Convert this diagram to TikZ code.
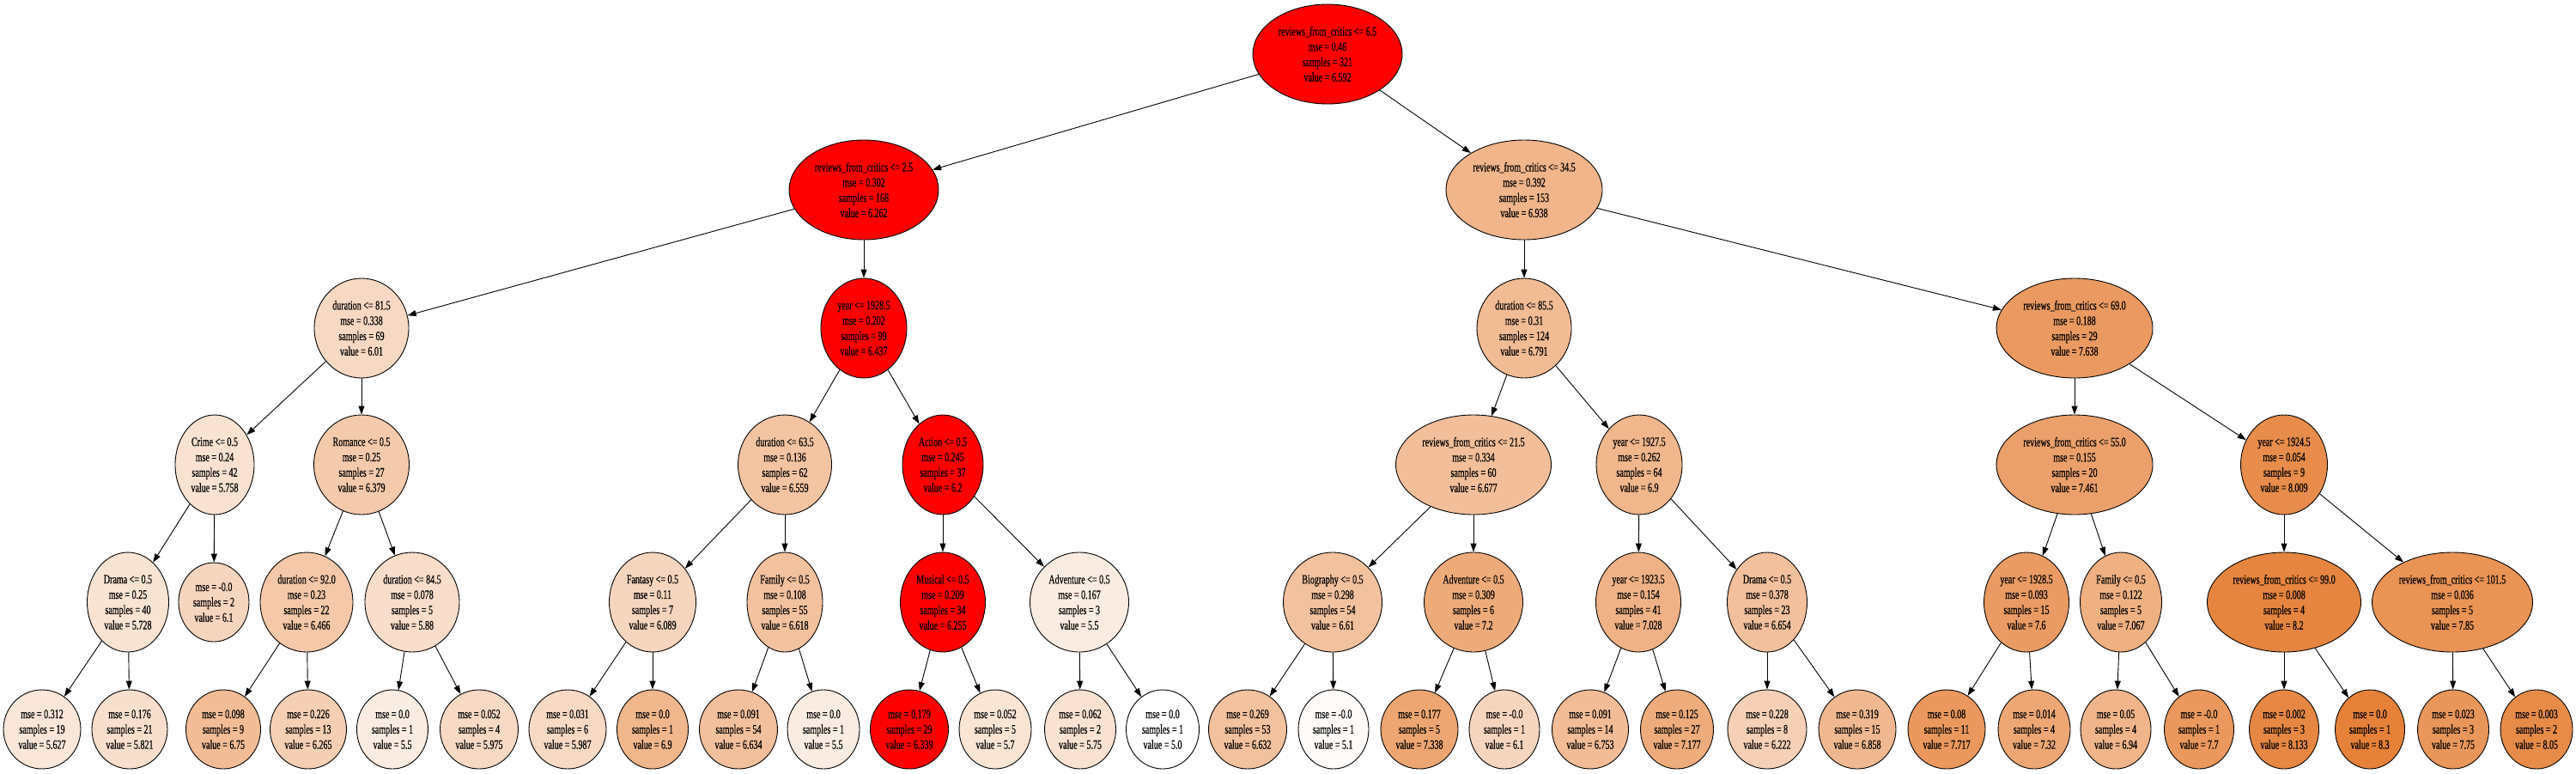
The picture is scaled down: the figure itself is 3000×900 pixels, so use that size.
\documentclass[tikz,border=0pt]{standalone}
\usepackage{fontspec}
\setmainfont{Liberation Serif}[FakeStretch=0.67,FakeBold=0.4]
\usetikzlibrary{arrows.meta,shapes.geometric}
\definecolor{treeor}{RGB}{229,129,57}
\tikzset{
  tn/.style={ellipse, draw=black, line width=0.9pt, inner sep=0pt, align=center,
    font=\fontsize{15}{17.8}\selectfont, minimum height=116pt},
  lf/.style={tn, minimum height=92pt, minimum width=86pt},
  ed/.style={line width=0.9pt, -{Triangle[length=10pt,width=7pt]}},
  fo/.style={fill=treeor!#1!white},
  rd/.style={fill=red}}
\begin{document}
\begin{tikzpicture}[x=1pt,y=-1pt]
\useasboundingbox (0,0) rectangle (3000,900);
% level 0
\node[tn,rd,minimum width=174pt] (r) at (1546,63) {reviews\_from\_critics <= 6.5\\mse = 0.46\\samples = 321\\value = 6.592};
% level 1
\node[tn,rd,minimum width=174pt] (a) at (1006,221) {reviews\_from\_critics <= 2.5\\mse = 0.302\\samples = 168\\value = 6.262};
\node[tn,fo=59,minimum width=182pt] (b) at (1775,221) {reviews\_from\_critics <= 34.5\\mse = 0.392\\samples = 153\\value = 6.938};
% level 2
\node[tn,fo=31,minimum width=110pt] (aa) at (421,382) {duration <= 81.5\\mse = 0.338\\samples = 69\\value = 6.01};
\node[tn,rd,minimum width=100pt] (ab) at (1006,382) {year <= 1928.5\\mse = 0.202\\samples = 99\\value = 6.437};
\node[tn,fo=54,minimum width=110pt] (ba) at (1775,382) {duration <= 85.5\\mse = 0.31\\samples = 124\\value = 6.791};
\node[tn,fo=80,minimum width=182pt] (bb) at (2416,382) {reviews\_from\_critics <= 69.0\\mse = 0.188\\samples = 29\\value = 7.638};
% level 3
\node[tn,fo=23,minimum width=92pt] (aaa) at (250,541) {Crime <= 0.5\\mse = 0.24\\samples = 42\\value = 5.758};
\node[tn,fo=42,minimum width=111pt] (aab) at (421,541) {Romance <= 0.5\\mse = 0.25\\samples = 27\\value = 6.379};
\node[tn,fo=47,minimum width=109pt] (aba) at (914,541) {duration <= 63.5\\mse = 0.136\\samples = 62\\value = 6.559};
\node[tn,rd,minimum width=94pt] (abb) at (1098,541) {Action <= 0.5\\mse = 0.245\\samples = 37\\value = 6.2};
\node[tn,fo=51,minimum width=181pt] (baa) at (1716,541) {reviews\_from\_critics <= 21.5\\mse = 0.334\\samples = 60\\value = 6.677};
\node[tn,fo=58,minimum width=100pt] (bab) at (1909,541) {year <= 1927.5\\mse = 0.262\\samples = 64\\value = 6.9};
\node[tn,fo=75,minimum width=182pt] (bba) at (2416,541) {reviews\_from\_critics <= 55.0\\mse = 0.155\\samples = 20\\value = 7.461};
\node[tn,fo=91,minimum width=101pt] (bbb) at (2660,541) {year <= 1924.5\\mse = 0.054\\samples = 9\\value = 8.009};
% level 4
\node[tn,fo=22,minimum width=95pt] (c1) at (149,701) {Drama <= 0.5\\mse = 0.25\\samples = 40\\value = 5.728};
\node[lf,fo=33,minimum width=82pt] (c2) at (249,701) {mse = -0.0\\samples = 2\\value = 6.1};
\node[tn,fo=44,minimum width=108pt] (c3) at (357,701) {duration <= 92.0\\mse = 0.23\\samples = 22\\value = 6.466};
\node[tn,fo=27,minimum width=110pt] (c4) at (480,701) {duration <= 84.5\\mse = 0.078\\samples = 5\\value = 5.88};
\node[tn,fo=33,minimum width=101pt] (c5) at (760,701) {Fantasy <= 0.5\\mse = 0.11\\samples = 7\\value = 6.089};
\node[tn,fo=49,minimum width=88pt] (c6) at (914,701) {Family <= 0.5\\mse = 0.108\\samples = 55\\value = 6.618};
\node[tn,rd,minimum width=99pt] (c7) at (1098,701) {Musical <= 0.5\\mse = 0.209\\samples = 34\\value = 6.255};
\node[tn,fo=15,minimum width=115pt] (c8) at (1257,701) {Adventure <= 0.5\\mse = 0.167\\samples = 3\\value = 5.5};
\node[tn,fo=49,minimum width=115pt] (c9) at (1552,701) {Biography <= 0.5\\mse = 0.298\\samples = 54\\value = 6.61};
\node[tn,fo=67,minimum width=115pt] (c10) at (1716,701) {Adventure <= 0.5\\mse = 0.309\\samples = 6\\value = 7.2};
\node[tn,fo=61,minimum width=99pt] (c11) at (1908,701) {year <= 1923.5\\mse = 0.154\\samples = 41\\value = 7.028};
\node[tn,fo=50,minimum width=93pt] (c12) at (2058,701) {Drama <= 0.5\\mse = 0.378\\samples = 23\\value = 6.654};
\node[tn,fo=79,minimum width=99pt] (c13) at (2360,701) {year <= 1928.5\\mse = 0.093\\samples = 15\\value = 7.6};
\node[tn,fo=63,minimum width=95pt] (c14) at (2470,701) {Family <= 0.5\\mse = 0.122\\samples = 5\\value = 7.067};
\node[tn,fo=97,minimum width=179pt] (c15) at (2660,701) {reviews\_from\_critics <= 99.0\\mse = 0.008\\samples = 4\\value = 8.2};
\node[tn,fo=86,minimum width=187pt] (c16) at (2856,701) {reviews\_from\_critics <= 101.5\\mse = 0.036\\samples = 5\\value = 7.85};
% leaves
\node[lf,fo=19,minimum width=90pt] (l1) at (49,849) {mse = 0.312\\samples = 19\\value = 5.627};
\node[lf,fo=25,minimum width=88pt] (l2) at (151,849) {mse = 0.176\\samples = 21\\value = 5.821};
\node[lf,fo=53,minimum width=87pt] (l3) at (260,849) {mse = 0.098\\samples = 9\\value = 6.75};
\node[lf,fo=38,minimum width=89pt] (l4) at (359,849) {mse = 0.226\\samples = 13\\value = 6.265};
\node[lf,fo=15,minimum width=83pt] (l5) at (457,849) {mse = 0.0\\samples = 1\\value = 5.5};
\node[lf,fo=30,minimum width=91pt] (l6) at (558,849) {mse = 0.052\\samples = 4\\value = 5.975};
\node[lf,fo=30,minimum width=90pt] (l7) at (661,849) {mse = 0.031\\samples = 6\\value = 5.987};
\node[lf,fo=58,minimum width=83pt] (l8) at (760,849) {mse = 0.0\\samples = 1\\value = 6.9};
\node[lf,fo=50,minimum width=91pt] (l9) at (860,849) {mse = 0.091\\samples = 54\\value = 6.634};
\node[lf,fo=15,minimum width=84pt] (l10) at (959,849) {mse = 0.0\\samples = 1\\value = 5.5};
\node[lf,rd,minimum width=91pt] (l11) at (1059,849) {mse = 0.179\\samples = 29\\value = 6.339};
\node[lf,fo=21,minimum width=84pt] (l12) at (1159,849) {mse = 0.052\\samples = 5\\value = 5.7};
\node[lf,fo=23,minimum width=83pt] (l13) at (1258,849) {mse = 0.062\\samples = 2\\value = 5.75};
\node[lf,fo=0,minimum width=85pt] (l14) at (1354,849) {mse = 0.0\\samples = 1\\value = 5.0};
\node[lf,fo=49,minimum width=91pt] (l15) at (1453,849) {mse = 0.269\\samples = 53\\value = 6.632};
\node[lf,fo=3,minimum width=82pt] (l16) at (1553,849) {mse = -0.0\\samples = 1\\value = 5.1};
\node[lf,fo=71,minimum width=90pt] (l17) at (1653,849) {mse = 0.177\\samples = 5\\value = 7.338};
\node[lf,fo=33,minimum width=82pt] (l18) at (1752,849) {mse = -0.0\\samples = 1\\value = 6.1};
\node[lf,fo=53,minimum width=89pt] (l19) at (1852,849) {mse = 0.091\\samples = 14\\value = 6.753};
\node[lf,fo=66,minimum width=85pt] (l20) at (1953,849) {mse = 0.125\\samples = 27\\value = 7.177};
\node[lf,fo=37,minimum width=92pt] (l21) at (2058,849) {mse = 0.228\\samples = 8\\value = 6.222};
\node[lf,fo=56,minimum width=90pt] (l22) at (2163,849) {mse = 0.319\\samples = 15\\value = 6.858};
\node[lf,fo=82,minimum width=90pt] (l23) at (2267,849) {mse = 0.08\\samples = 11\\value = 7.717};
\node[lf,fo=70,minimum width=84pt] (l24) at (2369,849) {mse = 0.014\\samples = 4\\value = 7.32};
\node[lf,fo=59,minimum width=82pt] (l25) at (2464,849) {mse = 0.05\\samples = 4\\value = 6.94};
\node[lf,fo=82,minimum width=81pt] (l26) at (2561,849) {mse = -0.0\\samples = 1\\value = 7.7};
\node[lf,fo=95,minimum width=81pt] (l27) at (2660,849) {mse = 0.002\\samples = 3\\value = 8.133};
\node[lf,fo=100,minimum width=81pt] (l28) at (2760,849) {mse = 0.0\\samples = 1\\value = 8.3};
\node[lf,fo=83,minimum width=83pt] (l29) at (2857,849) {mse = 0.023\\samples = 3\\value = 7.75};
\node[lf,fo=92,minimum width=84pt] (l30) at (2954,849) {mse = 0.003\\samples = 2\\value = 8.05};
% edges
\draw[ed] (r) -- (a);  \draw[ed] (r) -- (b);
\draw[ed] (a) -- (aa); \draw[ed] (a) -- (ab);
\draw[ed] (b) -- (ba); \draw[ed] (b) -- (bb);
\draw[ed] (aa) -- (aaa); \draw[ed] (aa) -- (aab);
\draw[ed] (ab) -- (aba); \draw[ed] (ab) -- (abb);
\draw[ed] (ba) -- (baa); \draw[ed] (ba) -- (bab);
\draw[ed] (bb) -- (bba); \draw[ed] (bb) -- (bbb);
\draw[ed] (aaa) -- (c1); \draw[ed] (aaa) -- (c2);
\draw[ed] (aab) -- (c3); \draw[ed] (aab) -- (c4);
\draw[ed] (aba) -- (c5); \draw[ed] (aba) -- (c6);
\draw[ed] (abb) -- (c7); \draw[ed] (abb) -- (c8);
\draw[ed] (baa) -- (c9); \draw[ed] (baa) -- (c10);
\draw[ed] (bab) -- (c11); \draw[ed] (bab) -- (c12);
\draw[ed] (bba) -- (c13); \draw[ed] (bba) -- (c14);
\draw[ed] (bbb) -- (c15); \draw[ed] (bbb) -- (c16);
\draw[ed] (c1) -- (l1); \draw[ed] (c1) -- (l2);
\draw[ed] (c3) -- (l3); \draw[ed] (c3) -- (l4);
\draw[ed] (c4) -- (l5); \draw[ed] (c4) -- (l6);
\draw[ed] (c5) -- (l7); \draw[ed] (c5) -- (l8);
\draw[ed] (c6) -- (l9); \draw[ed] (c6) -- (l10);
\draw[ed] (c7) -- (l11); \draw[ed] (c7) -- (l12);
\draw[ed] (c8) -- (l13); \draw[ed] (c8) -- (l14);
\draw[ed] (c9) -- (l15); \draw[ed] (c9) -- (l16);
\draw[ed] (c10) -- (l17); \draw[ed] (c10) -- (l18);
\draw[ed] (c11) -- (l19); \draw[ed] (c11) -- (l20);
\draw[ed] (c12) -- (l21); \draw[ed] (c12) -- (l22);
\draw[ed] (c13) -- (l23); \draw[ed] (c13) -- (l24);
\draw[ed] (c14) -- (l25); \draw[ed] (c14) -- (l26);
\draw[ed] (c15) -- (l27); \draw[ed] (c15) -- (l28);
\draw[ed] (c16) -- (l29); \draw[ed] (c16) -- (l30);
\end{tikzpicture}
\end{document}
